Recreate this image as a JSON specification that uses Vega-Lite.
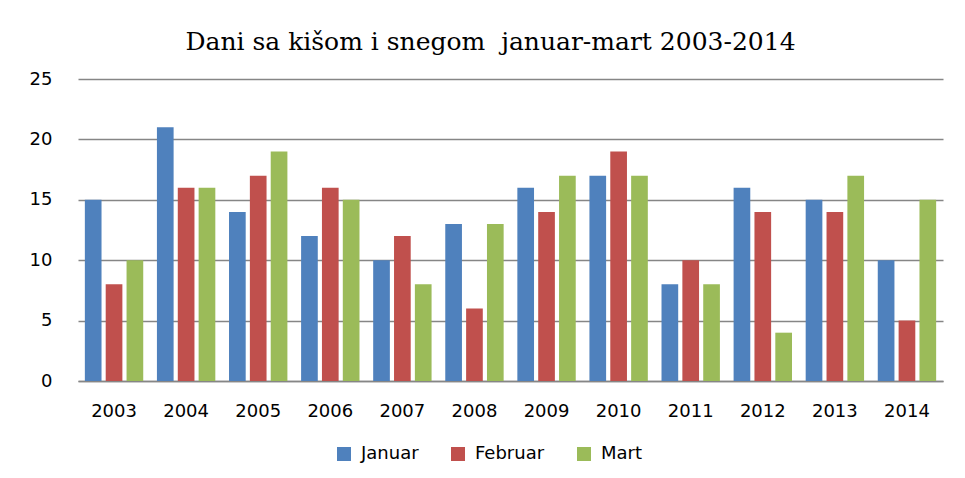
{
  "$schema": "https://vega.github.io/schema/vega-lite/v6.json",
  "width": 865,
  "height": 302,
  "autosize": {"type": "none"},
  "padding": {"left": 78, "top": 79, "right": 22, "bottom": 97},
  "background": "white",
  "title": {
    "text": "Dani sa kišom i snegom\u00a0 januar-mart 2003-2014",
    "font": "DejaVu Serif",
    "fontSize": 25,
    "fontWeight": "normal",
    "color": "#000000",
    "anchor": "middle",
    "dx": -20,
    "offset": 15
  },
  "data": {
    "values": [
      {"godina": "2003", "mesec": "Januar", "dani": 15},
      {"godina": "2003", "mesec": "Februar", "dani": 8},
      {"godina": "2003", "mesec": "Mart", "dani": 10},
      {"godina": "2004", "mesec": "Januar", "dani": 21},
      {"godina": "2004", "mesec": "Februar", "dani": 16},
      {"godina": "2004", "mesec": "Mart", "dani": 16},
      {"godina": "2005", "mesec": "Januar", "dani": 14},
      {"godina": "2005", "mesec": "Februar", "dani": 17},
      {"godina": "2005", "mesec": "Mart", "dani": 19},
      {"godina": "2006", "mesec": "Januar", "dani": 12},
      {"godina": "2006", "mesec": "Februar", "dani": 16},
      {"godina": "2006", "mesec": "Mart", "dani": 15},
      {"godina": "2007", "mesec": "Januar", "dani": 10},
      {"godina": "2007", "mesec": "Februar", "dani": 12},
      {"godina": "2007", "mesec": "Mart", "dani": 8},
      {"godina": "2008", "mesec": "Januar", "dani": 13},
      {"godina": "2008", "mesec": "Februar", "dani": 6},
      {"godina": "2008", "mesec": "Mart", "dani": 13},
      {"godina": "2009", "mesec": "Januar", "dani": 16},
      {"godina": "2009", "mesec": "Februar", "dani": 14},
      {"godina": "2009", "mesec": "Mart", "dani": 17},
      {"godina": "2010", "mesec": "Januar", "dani": 17},
      {"godina": "2010", "mesec": "Februar", "dani": 19},
      {"godina": "2010", "mesec": "Mart", "dani": 17},
      {"godina": "2011", "mesec": "Januar", "dani": 8},
      {"godina": "2011", "mesec": "Februar", "dani": 10},
      {"godina": "2011", "mesec": "Mart", "dani": 8},
      {"godina": "2012", "mesec": "Januar", "dani": 16},
      {"godina": "2012", "mesec": "Februar", "dani": 14},
      {"godina": "2012", "mesec": "Mart", "dani": 4},
      {"godina": "2013", "mesec": "Januar", "dani": 15},
      {"godina": "2013", "mesec": "Februar", "dani": 14},
      {"godina": "2013", "mesec": "Mart", "dani": 17},
      {"godina": "2014", "mesec": "Januar", "dani": 10},
      {"godina": "2014", "mesec": "Februar", "dani": 5},
      {"godina": "2014", "mesec": "Mart", "dani": 15}
    ]
  },
  "mark": {"type": "bar"},
  "encoding": {
    "x": {
      "field": "godina",
      "type": "nominal",
      "scale": {"paddingInner": 0.19, "paddingOuter": 0.095},
      "axis": {
        "title": null,
        "labelAngle": 0,
        "ticks": false,
        "domainColor": "#868686",
        "domainWidth": 1.5,
        "labelFont": "DejaVu Sans",
        "labelFontSize": 18,
        "labelColor": "#000000",
        "labelPadding": 21
      }
    },
    "xOffset": {
      "field": "mesec",
      "type": "nominal",
      "sort": ["Januar", "Februar", "Mart"],
      "scale": {"paddingInner": 0.2, "paddingOuter": 0}
    },
    "y": {
      "field": "dani",
      "type": "quantitative",
      "scale": {"domain": [0, 25], "nice": false},
      "axis": {
        "title": null,
        "values": [0, 5, 10, 15, 20, 25],
        "ticks": false,
        "domain": false,
        "gridColor": "#868686",
        "gridWidth": 1.5,
        "labelFont": "DejaVu Sans",
        "labelFontSize": 18,
        "labelColor": "#000000",
        "labelPadding": 26
      }
    },
    "color": {
      "field": "mesec",
      "type": "nominal",
      "sort": ["Januar", "Februar", "Mart"],
      "scale": {"domain": ["Januar", "Februar", "Mart"], "range": ["#4F81BD", "#C0504D", "#9BBB59"]},
      "legend": {
        "title": null,
        "orient": "none",
        "direction": "horizontal",
        "legendX": 257,
        "legendY": 366,
        "symbolType": "square",
        "symbolSize": 196,
        "symbolStrokeWidth": 0,
        "symbolOpacity": 1,
        "labelFont": "DejaVu Sans",
        "labelFontSize": 18,
        "labelColor": "#000000",
        "labelOffset": 8,
        "columnPadding": 30
      }
    }
  },
  "config": {
    "view": {"stroke": null}
  }
}
